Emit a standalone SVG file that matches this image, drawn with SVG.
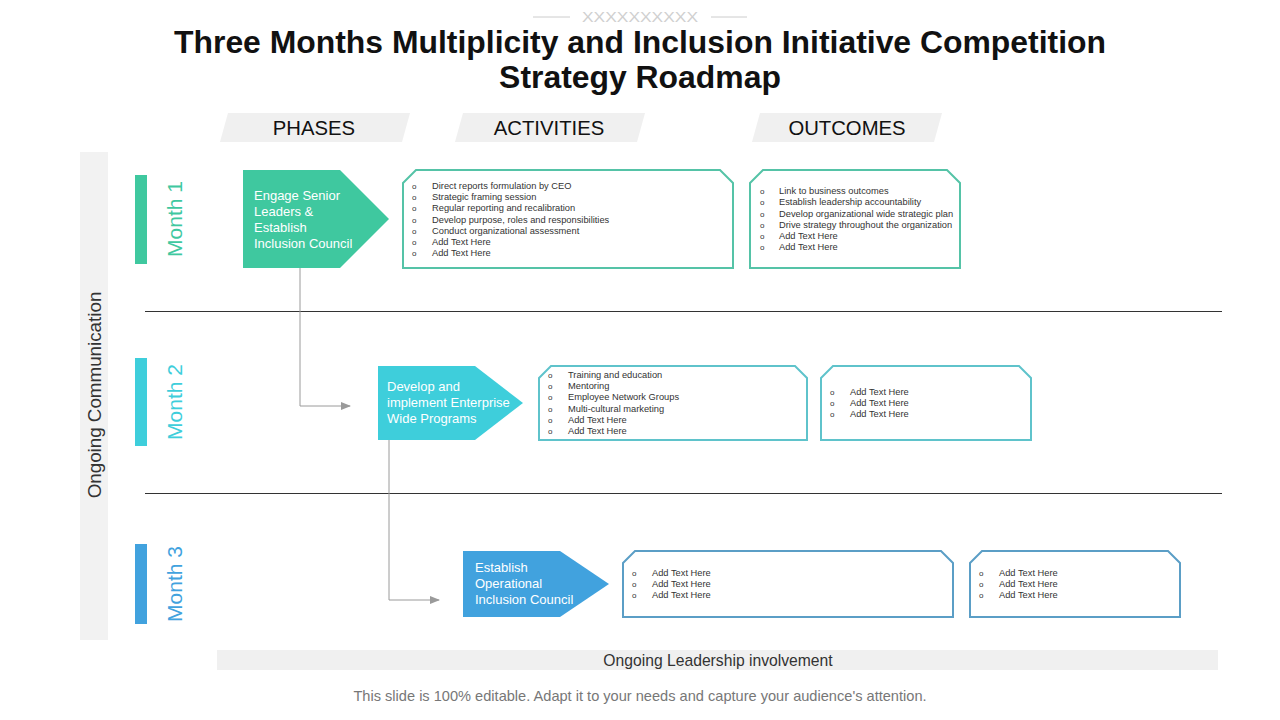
<svg xmlns="http://www.w3.org/2000/svg" width="1280" height="720" viewBox="0 0 1280 720">
<defs>
<style>
text{font-family:"Liberation Sans",Arial,sans-serif}
.title{font-size:31.9px;font-weight:bold;fill:#111;text-anchor:middle}
.hdr{font-size:20.3px;fill:#111;text-anchor:middle}
.tab{fill:#f0f0f0}
.month{font-size:21px}
.ph{font-size:13px;fill:#fff}
.li{font-size:9.3px;fill:#333}
.bu{font-size:8px;fill:#333}
.g1{fill:#3fc89f}
.g2{fill:#3ecedb}
.g3{fill:#41a2de}
.b1{fill:#fff;stroke:#55c3a7;stroke-width:2}
.b2{fill:#fff;stroke:#5fc3cb;stroke-width:2}
.b3{fill:#fff;stroke:#5b9ec6;stroke-width:2}
.conn{fill:none;stroke:#9a9a9a;stroke-width:1}
.div{stroke:#333;stroke-width:1}
</style>
<marker id="arr" markerWidth="10" markerHeight="8" refX="9" refY="4" orient="auto" markerUnits="userSpaceOnUse">
<path d="M0,0 L10,4 L0,8 Z" fill="#9a9a9a"/>
</marker>
</defs>
<rect width="1280" height="720" fill="#fff"/>

<g id="decor">
<line x1="533" y1="17" x2="570" y2="17" stroke="#ccc"/>
<line x1="711" y1="17" x2="747" y2="17" stroke="#ccc"/>
<text x="582" y="22" font-size="14" fill="#d0d0d0" textLength="116" lengthAdjust="spacingAndGlyphs">XXXXXXXXXX</text>
</g>

<g id="title">
<text class="title" x="640" y="53">Three Months Multiplicity and Inclusion Initiative Competition</text>
<text class="title" x="640" y="88">Strategy Roadmap</text>
</g>

<g id="headers">
<polygon class="tab" points="228,113 410,113 402,142 220,142"/>
<text class="hdr" x="314" y="135">PHASES</text>
<polygon class="tab" points="463,113 645,113 637,142 455,142"/>
<text class="hdr" x="549" y="135">ACTIVITIES</text>
<polygon class="tab" points="760,113 942,113 934,142 752,142"/>
<text class="hdr" x="847" y="135">OUTCOMES</text>
</g>

<g id="ongoing-communication">
<rect x="80" y="152" width="28" height="488" fill="#f2f2f2"/>
<text x="0" y="0" font-size="18.8" fill="#333" text-anchor="middle" transform="translate(101,395) rotate(-90)">Ongoing Communication</text>
</g>

<g id="dividers">
<line class="div" x1="145" y1="311.5" x2="1222" y2="311.5"/>
<line class="div" x1="145" y1="493.5" x2="1222" y2="493.5"/>
</g>

<g id="month1">
<rect class="g1" x="135" y="175" width="12" height="89"/>
<text class="month" fill="#3fc89f" text-anchor="middle" transform="translate(182,219) rotate(-90)">Month 1</text>
</g>
<g id="month2">
<rect class="g2" x="135" y="358" width="12" height="88"/>
<text class="month" fill="#3ecedb" text-anchor="middle" transform="translate(182,402) rotate(-90)">Month 2</text>
</g>
<g id="month3">
<rect class="g3" x="135" y="544" width="12" height="80"/>
<text class="month" fill="#41a2de" text-anchor="middle" transform="translate(182,584) rotate(-90)">Month 3</text>
</g>

<g id="connectors">
<polyline class="conn" points="300,268 300,406 350,406" marker-end="url(#arr)"/>
<polyline class="conn" points="389,440 389,600 439,600" marker-end="url(#arr)"/>
</g>

<g id="phase1">
<polygon class="g1" points="243,170 340,170 389,219 340,268 243,268"/>
<text class="ph" x="254" y="200">Engage Senior</text>
<text class="ph" x="254" y="216">Leaders &amp;</text>
<text class="ph" x="254" y="232">Establish</text>
<text class="ph" x="254" y="248">Inclusion Council</text>
</g>

<g id="activities1">
<polygon class="b1" points="403,183 416,170 720,170 733,183 733,268 403,268"/>
<g class="bu"><text x="412" y="189">o</text><text x="412" y="200">o</text><text x="412" y="211">o</text><text x="412" y="223">o</text><text x="412" y="234">o</text><text x="412" y="245">o</text><text x="412" y="256">o</text></g>
<text class="li" x="432" y="189">Direct reports  formulation by CEO</text>
<text class="li" x="432" y="200">Strategic framing session</text>
<text class="li" x="432" y="211">Regular reporting  and recalibration</text>
<text class="li" x="432" y="223">Develop purpose,  roles and  responsibilities</text>
<text class="li" x="432" y="234">Conduct organizational  assessment</text>
<text class="li" x="432" y="245">Add Text Here</text>
<text class="li" x="432" y="256">Add Text Here</text>
</g>

<g id="outcomes1">
<polygon class="b1" points="750,183 763,170 947,170 960,183 960,268 750,268"/>
<g class="bu"><text x="760" y="194">o</text><text x="760" y="205">o</text><text x="760" y="217">o</text><text x="760" y="228">o</text><text x="760" y="239">o</text><text x="760" y="250">o</text></g>
<text class="li" x="779" y="194">Link to business outcomes</text>
<text class="li" x="779" y="205">Establish leadership  accountability</text>
<text class="li" x="779" y="217">Develop organizational  wide  strategic plan</text>
<text class="li" x="779" y="228">Drive strategy throughout the organization</text>
<text class="li" x="779" y="239">Add Text Here</text>
<text class="li" x="779" y="250">Add Text Here</text>
</g>

<g id="phase2">
<polygon class="g2" points="378,366 475,366 523,403 475,440 378,440"/>
<text class="ph" x="387" y="391">Develop  and</text>
<text class="ph" x="387" y="407">implement Enterprise</text>
<text class="ph" x="387" y="423">Wide Programs</text>
</g>

<g id="activities2">
<polygon class="b2" points="539,378 551,366 795,366 807,378 807,440 539,440"/>
<g class="bu"><text x="548" y="378">o</text><text x="548" y="389">o</text><text x="548" y="400">o</text><text x="548" y="412">o</text><text x="548" y="423">o</text><text x="548" y="434">o</text></g>
<text class="li" x="568" y="378">Training  and education</text>
<text class="li" x="568" y="389">Mentoring</text>
<text class="li" x="568" y="400">Employee Network Groups</text>
<text class="li" x="568" y="412">Multi-cultural marketing</text>
<text class="li" x="568" y="423">Add Text Here</text>
<text class="li" x="568" y="434">Add Text Here</text>
</g>

<g id="outcomes2">
<polygon class="b2" points="821,378 833,366 1019,366 1031,378 1031,440 821,440"/>
<g class="bu"><text x="830" y="395">o</text><text x="830" y="406">o</text><text x="830" y="417">o</text></g>
<text class="li" x="850" y="395">Add Text Here</text>
<text class="li" x="850" y="406">Add Text Here</text>
<text class="li" x="850" y="417">Add Text Here</text>
</g>

<g id="phase3">
<polygon class="g3" points="463,551 560,551 609,584 560,617 463,617"/>
<text class="ph" x="475" y="572">Establish</text>
<text class="ph" x="475" y="588">Operational</text>
<text class="ph" x="475" y="604">Inclusion Council</text>
</g>

<g id="activities3">
<polygon class="b3" points="623,563 635,551 941,551 953,563 953,617 623,617"/>
<g class="bu"><text x="632" y="576">o</text><text x="632" y="587">o</text><text x="632" y="598">o</text></g>
<text class="li" x="652" y="576">Add Text Here</text>
<text class="li" x="652" y="587">Add Text Here</text>
<text class="li" x="652" y="598">Add Text Here</text>
</g>

<g id="outcomes3">
<polygon class="b3" points="970,563 982,551 1168,551 1180,563 1180,617 970,617"/>
<g class="bu"><text x="979" y="576">o</text><text x="979" y="587">o</text><text x="979" y="598">o</text></g>
<text class="li" x="999" y="576">Add Text Here</text>
<text class="li" x="999" y="587">Add Text Here</text>
<text class="li" x="999" y="598">Add Text Here</text>
</g>

<g id="ongoing-leadership">
<rect x="217" y="650" width="1001" height="20" fill="#f0f0f0"/>
<text x="718" y="666" font-size="15.7" fill="#333" text-anchor="middle">Ongoing Leadership involvement</text>
</g>

<g id="footer">
<text x="640" y="701" font-size="14.6" fill="#777" text-anchor="middle">This slide is 100% editable. Adapt it to your needs and capture your audience's attention.</text>
</g>
</svg>
